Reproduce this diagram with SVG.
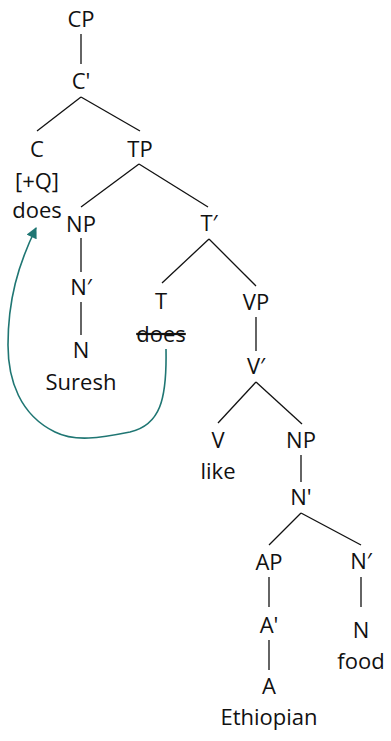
<svg xmlns="http://www.w3.org/2000/svg" width="391" height="741" viewBox="0 0 391 741">
<style>
text{font-family:"Open Sans","Noto Sans",sans-serif;font-size:22px;fill:#111;text-anchor:middle}
.e line{stroke:#111;stroke-width:1.3}
.mv{fill:none;stroke:#1f7673;stroke-width:1.6}
</style>
<defs>
<marker id="ah" viewBox="0 0 10 10" refX="9" refY="5" markerWidth="12" markerHeight="11" markerUnits="userSpaceOnUse" orient="auto"><path d="M0,0 L10,5 L0,10 z" fill="#1f7673"/></marker>
</defs>
<rect width="391" height="741" fill="#fff"/>
<g id="edges" class="e">
<line x1="81" y1="34" x2="81" y2="64"/>
<line x1="81" y1="97" x2="37" y2="131"/>
<line x1="81" y1="97" x2="140" y2="131"/>
<line x1="139" y1="164" x2="81" y2="207"/>
<line x1="139" y1="164" x2="208" y2="207"/>
<line x1="81" y1="238" x2="81" y2="272"/>
<line x1="81" y1="302" x2="81" y2="335"/>
<line x1="209" y1="239" x2="162" y2="283"/>
<line x1="209" y1="239" x2="256" y2="286"/>
<line x1="256" y1="317" x2="256" y2="351"/>
<line x1="256" y1="382" x2="218" y2="423"/>
<line x1="256" y1="382" x2="302" y2="424"/>
<line x1="301" y1="455" x2="301" y2="482"/>
<line x1="301" y1="513" x2="269" y2="545"/>
<line x1="301" y1="513" x2="361" y2="545"/>
<line x1="269" y1="577" x2="269" y2="607"/>
<line x1="269" y1="640" x2="269" y2="670"/>
<line x1="361" y1="577" x2="361" y2="607"/>
<path class="mv" d="M166,349 C167,400 160,425 130,432 C100,438 75,442 55,432 C20,415 8,380 8,345 C8,300 18,265 36,228" marker-end="url(#ah)"/>
</g>
<g id="CP"><text x="81" y="27">CP</text></g>
<g id="Cbar"><text x="81" y="89">C'</text></g>
<g id="C"><text x="37" y="157">C</text><text x="37" y="189">[+Q]</text><text x="37" y="218">does</text></g>
<g id="TP"><text x="140" y="157">TP</text></g>
<g id="NP1"><text x="81" y="232">NP</text></g>
<g id="Nbar1"><text x="81" y="295">N′</text></g>
<g id="N1"><text x="81" y="358">N</text><text x="81" y="390">Suresh</text></g>
<g id="Tbar"><text x="209" y="231">T′</text></g>
<g id="T"><text x="161" y="309">T</text><text x="161" y="342" text-decoration="line-through">does</text></g>
<g id="VP"><text x="256" y="310">VP</text></g>
<g id="Vbar"><text x="256" y="374">V′</text></g>
<g id="V"><text x="218" y="448">V</text><text x="218" y="479">like</text></g>
<g id="NP2"><text x="301" y="448">NP</text></g>
<g id="Nbar2"><text x="301" y="505">N'</text></g>
<g id="AP"><text x="269" y="570">AP</text></g>
<g id="Abar"><text x="269" y="633">A'</text></g>
<g id="A"><text x="269" y="694">A</text><text x="269" y="725">Ethiopian</text></g>
<g id="Nbar3"><text x="361" y="569">N′</text></g>
<g id="N3"><text x="361" y="638">N</text><text x="361" y="669">food</text></g>
</svg>
